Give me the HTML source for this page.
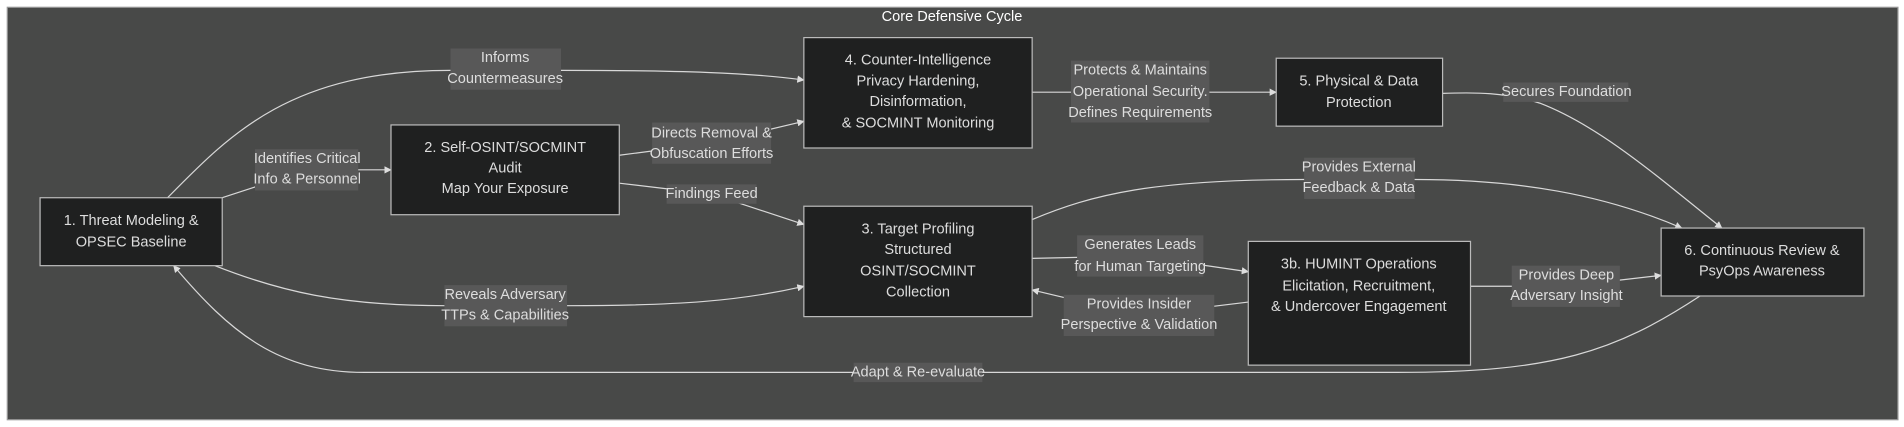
<!DOCTYPE html>
<html><head><meta charset="utf-8"><style>
html,body{margin:0;padding:0;background:#fff;width:1904px;height:427px;overflow:hidden}
svg{display:block}
text{font-family:"Liberation Sans",sans-serif;font-size:12px;fill:#ddd;text-anchor:middle;dominant-baseline:central}
.n{fill:#1f2020;stroke:#bbb;stroke-width:1}
.l{fill:#585858}
.e{fill:none;stroke:#d8d8d8;stroke-width:1}
</style></head><body>
<svg width="1904" height="427" viewBox="0 0 1568 352" preserveAspectRatio="none">
<defs><marker id="a" viewBox="0 0 10 10" refX="9" refY="5" markerWidth="6" markerHeight="6" orient="auto"><path d="M0,0L10,5L0,10z" fill="#ddd"/></marker></defs>
<rect x="6" y="6" width="1557" height="340" fill="#484948" stroke="#999" stroke-width="1"/>
<text x="784" y="14" style="fill:#fff">Core Defensive Cycle</text>

<path class="e" d="M138,163 C190,110 240,58 371,58 L462,58 C560,58 620,60 662,66" marker-end="url(#a)"/>
<path class="e" d="M183,163 L253,140 L322,140" marker-end="url(#a)"/>
<path class="e" d="M510,128 L586,118 L662,100" marker-end="url(#a)"/>
<path class="e" d="M510,151 L586,160 L662,185" marker-end="url(#a)"/>
<path class="e" d="M850,76 L1051,76" marker-end="url(#a)"/>
<path class="e" d="M1188,77 C1215,76 1240,76 1268,85 C1320,105 1370,150 1418,188" marker-end="url(#a)"/>
<path class="e" d="M850,181 C900,160 950,148 1074,148 L1165,148 C1250,148 1320,160 1385,188" marker-end="url(#a)"/>
<path class="e" d="M850,213 L939,211 L1028,224" marker-end="url(#a)"/>
<path class="e" d="M1028,249 L938,260 L850,239" marker-end="url(#a)"/>
<path class="e" d="M1211,236 L1290,236 L1368,227" marker-end="url(#a)"/>
<path class="e" d="M177,219 C230,240 280,252 366,252 L467,252 C560,252 610,248 662,236" marker-end="url(#a)"/>
<path class="e" d="M1400,244 C1330,290 1280,307 1150,307 L300,307 C230,307 190,275 143,219" marker-end="url(#a)"/>

<rect class="n" x="33" y="163" width="150" height="56"/>
<text x="108" y="182">1. Threat Modeling &amp;</text><text x="108" y="200">OPSEC Baseline</text>
<rect class="n" x="322" y="103" width="188" height="74"/>
<text x="416" y="122">2. Self-OSINT/SOCMINT</text><text x="416" y="139">Audit</text><text x="416" y="156">Map Your Exposure</text>
<rect class="n" x="662" y="31" width="188" height="91"/>
<text x="756" y="50">4. Counter-Intelligence</text><text x="756" y="67">Privacy Hardening,</text><text x="756" y="84">Disinformation,</text><text x="756" y="102">&amp; SOCMINT Monitoring</text>
<rect class="n" x="662" y="170" width="188" height="91"/>
<text x="756" y="189">3. Target Profiling</text><text x="756" y="206">Structured</text><text x="756" y="224">OSINT/SOCMINT</text><text x="756" y="241">Collection</text>
<rect class="n" x="1051" y="48" width="137" height="56"/>
<text x="1119" y="67">5. Physical &amp; Data</text><text x="1119" y="85">Protection</text>
<rect class="n" x="1028" y="199" width="183" height="102"/>
<text x="1119" y="218">3b. HUMINT Operations</text><text x="1119" y="236">Elicitation, Recruitment,</text><text x="1119" y="253">&amp; Undercover Engagement</text>
<rect class="n" x="1368" y="188" width="167" height="56"/>
<text x="1451" y="207">6. Continuous Review &amp;</text><text x="1451" y="224">PsyOps Awareness</text>

<rect class="l" x="371" y="40" width="91" height="34"/><text x="416" y="48">Informs</text><text x="416" y="65">Countermeasures</text>
<rect class="l" x="210" y="123" width="85" height="34"/><text x="253" y="131">Identifies Critical</text><text x="253" y="148">Info &amp; Personnel</text>
<rect class="l" x="537" y="101" width="98" height="34"/><text x="586" y="110">Directs Removal &amp;</text><text x="586" y="127">Obfuscation Efforts</text>
<rect class="l" x="549" y="152" width="74" height="16"/><text x="586" y="160">Findings Feed</text>
<rect class="l" x="882" y="50" width="114" height="51"/><text x="939" y="58">Protects &amp; Maintains</text><text x="939" y="76">Operational Security.</text><text x="939" y="93">Defines Requirements</text>
<rect class="l" x="1238" y="68" width="103" height="16"/><text x="1290" y="76">Secures Foundation</text>
<rect class="l" x="1074" y="130" width="91" height="34"/><text x="1119" y="138">Provides External</text><text x="1119" y="155">Feedback &amp; Data</text>
<rect class="l" x="887" y="194" width="104" height="34"/><text x="939" y="202">Generates Leads</text><text x="939" y="220">for Human Targeting</text>
<rect class="l" x="876" y="243" width="124" height="34"/><text x="938" y="251">Provides Insider</text><text x="938" y="268">Perspective &amp; Validation</text>
<rect class="l" x="1245" y="219" width="89" height="34"/><text x="1290" y="227">Provides Deep</text><text x="1290" y="244">Adversary Insight</text>
<rect class="l" x="366" y="235" width="101" height="34"/><text x="416" y="243">Reveals Adversary</text><text x="416" y="260">TTPs &amp; Capabilities</text>
<rect class="l" x="703" y="299" width="106" height="16"/><text x="756" y="307">Adapt &amp; Re-evaluate</text>
</svg>
</body></html>
